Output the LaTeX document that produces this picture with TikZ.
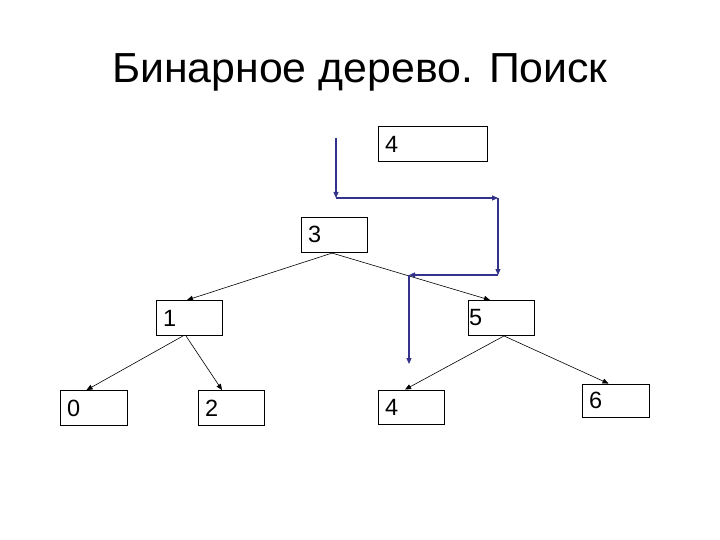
\documentclass[tikz,border=0pt]{standalone}
\usepackage{fontspec}
\usepackage{graphicx}
\setmainfont{Liberation Sans}
\usetikzlibrary{arrows.meta,calc}
\definecolor{pathblue}{RGB}{51,51,140}
\tikzset{
  box/.style={draw, line width=0.9pt, minimum height=35pt, inner xsep=7pt, inner ysep=0pt,
    align=left, font=\fontsize{23.5}{25}\selectfont},
  edge/.style={line width=0.6pt, -{Triangle[length=6pt,width=5pt]}},
  search/.style={draw=pathblue, line width=1.1pt, -{Triangle[length=6pt,width=5pt]}}
}
\begin{document}
\begin{tikzpicture}[x=1pt,y=-1pt]
\useasboundingbox (0,0) rectangle (720,540);
\node[font=\fontsize{42}{46}\selectfont, anchor=base] (title) at (360,83) {\scalebox{1.02}[1]{Бинарное дерево. Поиск}};
% nodes
\node[box, minimum width=109pt, text width=95pt] (k4) at (432.5,144) {4};
\node[box, minimum width=66pt, text width=52pt] (n3) at (334,234.5) {3};
\node[box, minimum width=66pt, text width=52pt] (n1) at (189,318) {1};
\node[box, minimum width=66pt, text width=64pt, inner xsep=1pt] (n5) at (501,318) {5};
\node[box, minimum width=67pt, text width=53pt] (n0) at (93.5,408) {0};
\node[box, minimum width=66pt, text width=52pt] (n2) at (231,408) {2};
\node[box, minimum width=66pt, text width=52pt, minimum height=34pt] (n4) at (411,407) {4};
\node[box, minimum width=67pt, text width=53pt, minimum height=33pt] (n6) at (615.5,400.5) {6};
% tree edges
\draw[edge] (n3.south) -- ([xshift=-2pt]n1.north);
\draw[edge] ([xshift=-4pt]n3.south) -- ([xshift=-11pt]n5.north);
\draw[edge] ([xshift=-6pt]n1.south) -- ([xshift=-7pt]n0.north);
\draw[edge] ([xshift=-3pt]n1.south) -- ([xshift=-9pt]n2.north);
\draw[edge] ([xshift=3pt]n5.south) -- ([xshift=-6pt]n4.north);
\draw[edge] ([xshift=3pt]n5.south) -- ([xshift=-7pt]n6.north);
% search path
\coordinate (c0) at (336,138);
\coordinate (c1) at (336,198);
\coordinate (c2) at (498,198);
\coordinate (c3) at (498,275);
\coordinate (c4) at (409,275);
\coordinate (c5) at (409,364);
\draw[search] (c0) -- (c1);
\draw[search] (c1) -- (c2);
\draw[search] (c2) -- (c3);
\draw[search] (c3) -- (c4);
\draw[search] (c4) -- (c5);
\end{tikzpicture}
\end{document}
